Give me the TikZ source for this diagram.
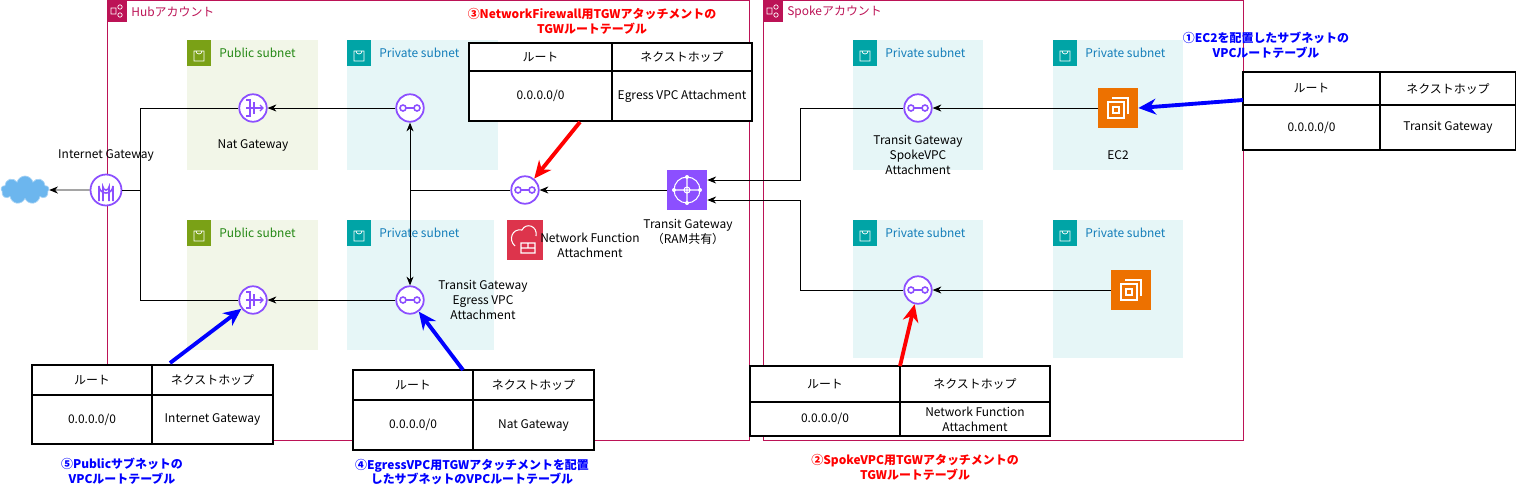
\documentclass[tikz,border=0pt]{standalone}
\usepackage{fontspec}
\setmainfont{Noto Sans CJK JP}
\usetikzlibrary{arrows.meta,shapes.symbols,calc}
\definecolor{acct}{HTML}{BC1356}
\definecolor{pubbg}{HTML}{F2F6E8}\definecolor{pubic}{HTML}{7AA116}\definecolor{pubtx}{HTML}{248814}
\definecolor{pribg}{HTML}{E6F6F7}\definecolor{priic}{HTML}{00A4A6}\definecolor{pritx}{HTML}{147EBA}
\definecolor{purp}{HTML}{8C4FFF}\definecolor{ec2}{HTML}{ED7100}\definecolor{nfw}{HTML}{DD344C}
\definecolor{blu}{HTML}{0000FF}\definecolor{cld}{HTML}{6CB6EE}
\begin{document}
\begin{tikzpicture}[x=0.02cm,y=-0.02cm,
  font=\fontsize{6.8}{8.5}\selectfont,
  conn/.style={draw=black,line width=0.5pt},
  arr/.style={conn,-{Stealth[length=5pt,width=4pt]}},
  red arr/.style={draw=red,line width=2.2pt,-{Stealth[length=10pt,width=9pt]}},
  blue arr/.style={draw=blu,line width=2.2pt,-{Stealth[length=10pt,width=9pt]}},
  tlabel/.style={align=center,font=\fontsize{6.8}{8.5}\selectfont\bfseries},
  lbl/.style={align=center,inner sep=0pt},
  att/.style={circle,draw=purp,line width=1pt,minimum size=0.55cm,inner sep=0pt,fill=white},
  acctbox/.style={draw=acct,line width=0.5pt}]
\useasboundingbox (0,0) rectangle (1516,488);
% accounts
\draw[acctbox] (107,0) rectangle (749,440);
\draw[acctbox] (763,0) rectangle (1243,440);
\foreach \x/\t in {107/Hubアカウント,763/Spokeアカウント}{
  \fill[acct] (\x,0) rectangle ++(20,22);
  \draw[white,line width=0.4pt] (\x+4,8) rectangle ++(5,6) (\x+13,7) circle (2.2) (\x+13,15) circle (2.2);
  \node[anchor=west,text=acct,inner sep=0pt] at (\x+24,12) {\t};}
% subnets
\newcommand\subnet[6]{%
  \fill[#5] (#1,#2) rectangle (#3,#4);
  \fill[#6] (#1,#2) rectangle ++(24,26);
  \draw[white,line width=0.4pt] (#1+7,#2+11) rectangle ++(10,10) (#1+9,#2+11) arc(180:0:3);
}
\subnet{187}{40}{318}{170}{pubbg}{pubic}
\subnet{187}{220}{318}{350}{pubbg}{pubic}
\subnet{347}{40}{498}{170}{pribg}{priic}
\subnet{347}{220}{494}{350}{pribg}{priic}
\subnet{853}{40}{983}{170}{pribg}{priic}
\subnet{1053}{40}{1183}{170}{pribg}{priic}
\subnet{853}{220}{983}{358}{pribg}{priic}
\subnet{1053}{220}{1183}{358}{pribg}{priic}
\foreach \x/\y in {219/53,219/233}{\node[anchor=west,text=pubtx,inner sep=0pt] at (\x,\y) {Public subnet};}
\foreach \x/\y in {379/53,379/233,885/53,1085/53,885/233,1085/233}{\node[anchor=west,text=pritx,inner sep=0pt] at (\x,\y) {Private subnet};}
% icons
\newcommand\attach[2]{\node[att] (#1) at #2 {};
  \draw[purp,line width=0.9pt] ($(#1)+(-7,0)$) circle (3) ($(#1)+(7,0)$) circle (3) ($(#1)+(-4,0)$) -- ($(#1)+(4,0)$);}
\attach{attA}{(410,108)}
\attach{attB}{(410,300)}
\attach{attNF}{(525,190)}
\attach{attS1}{(918,108)}
\attach{attS2}{(918,290)}
\foreach \n/\p in {natA/{(253,108)},natB/{(253,300)}}{
  \node[att] (\n) at \p {};
  \draw[purp,line width=0.7pt] ($(\n)+(-7,-8)$) -- ($(\n)+(-3,-8)$) -- ($(\n)+(-3,8)$) -- ($(\n)+(-7,8)$) ($(\n)+(-7,0)$) -- ($(\n)+(10,0)$) ($(\n)+(1,-6)$) -- ($(\n)+(1,6)$);
  \draw[purp,line width=0.7pt] ($(\n)+(7,-3)$) -- ($(\n)+(10,0)$) -- ($(\n)+(7,3)$);}
\node[att,minimum size=0.62cm] (igw) at (106,190) {};
\draw[purp,line width=0.9pt] (99,201) -- (99,186) arc(180:0:7) -- (113,201);
\draw[purp,line width=0.9pt] (103,201) -- (103,187) arc(180:0:3) -- (109,201);
\node[cloud,cloud puffs=9,aspect=2,fill=cld,draw=cld!60,minimum width=0.96cm,minimum height=0.56cm,inner sep=0pt] (cloud) at (25,190) {};
\node[fill=purp,minimum size=0.8cm,inner sep=0pt] (tgw) at (687,190) {};
\draw[white,line width=0.6pt] (687,190) circle (13) (687,190) circle (3) (674,190)--(700,190) (687,177)--(687,203);
\foreach \a in {0,90,180,270}{\fill[white] ($(687,190)+(\a:13)$) circle (2);}
\node[fill=nfw,minimum width=0.72cm,minimum height=0.8cm,inner sep=0pt] (nfwi) at (525,240) {};
\draw[white,line width=0.6pt] (515,246) .. controls (508,240) and (512,228) .. (522,230) .. controls (526,222) and (538,226) .. (536,236) (521,243) rectangle ++(14,10) (521,248) -- (535,248) (528,243) -- (528,248);
\foreach \n/\p in {ec2A/{(1118,108)},ec2B/{(1131,290)}}{
  \node[fill=ec2,minimum size=0.8cm,inner sep=0pt] (\n) at \p {};
  \draw[white,line width=0.6pt] ($(\n)+(-10,-6)$) rectangle ($(\n)+(6,10)$) ($(\n)+(-6,-10)$) -- ($(\n)+(10,-10)$) -- ($(\n)+(10,6)$) ($(\n)+(-5,-1)$) rectangle ($(\n)+(1,5)$);}
% labels
\node[lbl] at (106,155) {Internet Gateway};
\node[lbl] at (253,145) {Nat Gateway};
\node[lbl] at (918,155) {Transit Gateway\\SpokeVPC\\Attachment};
\node[lbl] at (1118,155) {EC2};
\node[lbl] at (483,300) {Transit Gateway\\Egress VPC\\Attachment};
\node[lbl] at (590,245) {Network Function\\Attachment};
\node[lbl] at (688,232) {Transit Gateway\\（RAM共有）};
% connectors
\draw[arr] (attA) -- (natA);
\draw[arr] (attB) -- (natB);
\draw[conn] (natA.west) -- (140,108) -- (140,300) -- (natB.west);
\draw[conn] (140,190) -- (igw.east);
\draw[arr] (igw.west) -- (cloud.east);
\draw[{Stealth[length=5pt,width=4pt]}-{Stealth[length=5pt,width=4pt]},conn] (attA) -- (attB);
\draw[conn] (attNF.west) -- (410,190);
\draw[arr] (tgw.west) -- (attNF);
\draw[arr] (attS1.west) -- (800,108) -- (800,180) -- (tgw.east |- 0,180);
\draw[arr] (attS2.west) -- (800,290) -- (800,200) -- (tgw.east |- 0,200);
\draw[arr] (ec2A) -- (attS1);
\draw[arr] (ec2B) -- (attS2);
% tables
\newcommand\rtab[8]{%
  \draw[line width=0.6pt,fill=white] (#1,#2) rectangle (#3,#5);
  \draw[line width=0.6pt] (#1,#4) -- (#3,#4) (#6,#2) -- (#6,#5);
  \node[lbl] at ({(#1+#6)/2},{(#2+#4)/2}) {ルート};
  \node[lbl] at ({(#6+#3)/2},{(#2+#4)/2}) {ネクストホップ};
  \node[lbl] at ({(#1+#6)/2},{(#4+#5)/2}) {0.0.0.0/0};
  \node[lbl] (#8) at ({(#6+#3)/2},{(#4+#5)/2}) {#7};}
\rtab{469}{43}{752}{71}{121}{612}{Egress VPC Attachment}{t3}
\rtab{1243}{72}{1516}{105}{150}{1380}{Transit Gateway}{t1}
\rtab{32}{365}{273}{395}{444}{152}{Internet Gateway}{t5}
\rtab{353}{370}{594}{400}{450}{473}{Nat Gateway}{t4}
\rtab{750}{366}{1050}{402}{436}{900}{Network Function\\Attachment}{t2}
% titles
\node[tlabel,text=red] at (592,21) {③NetworkFirewall用TGWアタッチメントの\\TGWルートテーブル};
\node[tlabel,text=blu] at (1266,45) {①EC2を配置したサブネットの\\VPCルートテーブル};
\node[tlabel,text=blu] at (122,471) {⑤Publicサブネットの\\VPCルートテーブル};
\node[tlabel,text=blu] at (472,472) {④EgressVPC用TGWアタッチメントを配置\\したサブネットのVPCルートテーブル};
\node[tlabel,text=red] at (915,467) {②SpokeVPC用TGWアタッチメントの\\TGWルートテーブル};
% thick arrows
\coordinate (r3) at (580,122); \draw[red arr] (r3) -- (attNF);
\coordinate (b1) at (1243,100); \draw[blue arr] (b1) -- (ec2A.east);
\coordinate (b5) at (170,363); \draw[blue arr] (b5) -- (natB);
\coordinate (b4) at (463,370); \draw[blue arr] (b4) -- (attB);
\coordinate (r2) at (900,366); \draw[red arr] (r2) -- (attS2);
\end{tikzpicture}
\end{document}
